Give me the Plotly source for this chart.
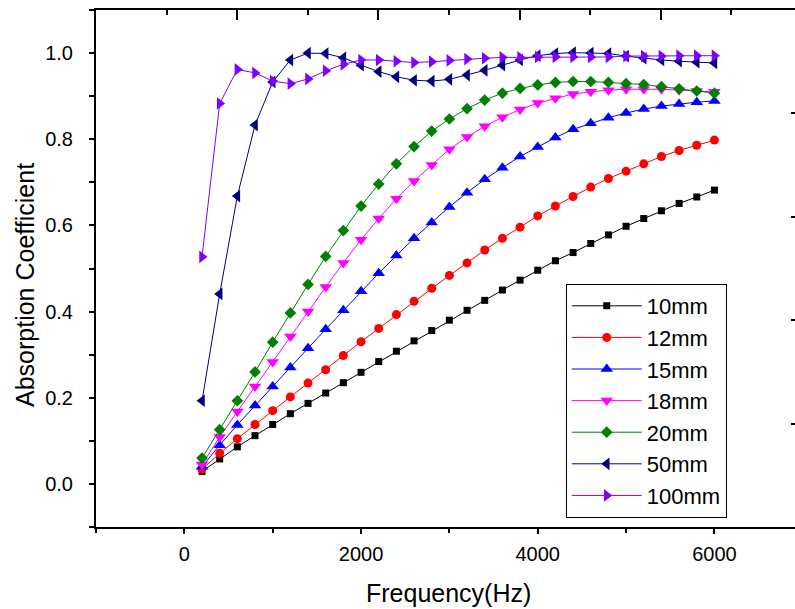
import plotly.graph_objects as go

freq = list(range(200, 6001, 200))

s10 = [0.029, 0.058, 0.086, 0.112, 0.138, 0.163, 0.187, 0.211, 0.235, 0.259,
       0.284, 0.308, 0.332, 0.356, 0.380, 0.403, 0.426, 0.450, 0.473, 0.496,
       0.518, 0.537, 0.558, 0.578, 0.598, 0.616, 0.634, 0.651, 0.666, 0.682]
s12 = [0.034, 0.071, 0.105, 0.138, 0.170, 0.202, 0.234, 0.265, 0.298, 0.330,
       0.361, 0.393, 0.424, 0.454, 0.484, 0.513, 0.543, 0.570, 0.596, 0.622,
       0.645, 0.667, 0.689, 0.709, 0.726, 0.743, 0.760, 0.774, 0.786, 0.798]
s15 = [0.040, 0.090, 0.137, 0.182, 0.226, 0.270, 0.315, 0.359, 0.403, 0.447,
       0.489, 0.530, 0.570, 0.607, 0.643, 0.676, 0.707, 0.734, 0.760, 0.782,
       0.804, 0.823, 0.837, 0.850, 0.861, 0.870, 0.877, 0.882, 0.886, 0.889]
s18 = [0.045, 0.109, 0.168, 0.226, 0.283, 0.342, 0.400, 0.457, 0.513, 0.567,
       0.616, 0.662, 0.703, 0.740, 0.777, 0.805, 0.830, 0.851, 0.869, 0.884,
       0.895, 0.905, 0.910, 0.914, 0.916, 0.916, 0.916, 0.914, 0.912, 0.910]
s20 = [0.060, 0.126, 0.193, 0.260, 0.329, 0.397, 0.463, 0.528, 0.588, 0.645,
       0.696, 0.743, 0.783, 0.819, 0.847, 0.871, 0.891, 0.907, 0.918, 0.926,
       0.932, 0.934, 0.934, 0.932, 0.929, 0.927, 0.922, 0.917, 0.912, 0.907]
s50 = [0.193, 0.441, 0.668, 0.833, 0.933, 0.984, 1.000, 0.999, 0.989, 0.972,
       0.957, 0.945, 0.937, 0.935, 0.939, 0.949, 0.960, 0.972, 0.984, 0.994,
       0.999, 1.001, 1.000, 0.999, 0.993, 0.988, 0.984, 0.981, 0.979, 0.977]
s100 = [0.527, 0.883, 0.962, 0.954, 0.935, 0.929, 0.940, 0.959, 0.974, 0.984,
        0.984, 0.981, 0.978, 0.980, 0.983, 0.986, 0.988, 0.990, 0.990, 0.991,
        0.991, 0.991, 0.991, 0.991, 0.993, 0.993, 0.993, 0.994, 0.994, 0.994]

names = ["10mm", "12mm", "15mm", "18mm", "20mm", "50mm", "100mm"]
series = [s10, s12, s15, s18, s20, s50, s100]
colors = ["#000000", "#FF0000", "#0000FF", "#FF00FF", "#008000", "#000080", "#8000FF"]
symbols = ["square", "circle", "triangle-up", "triangle-down", "diamond",
           "triangle-left", "triangle-right"]
sizes = [7, 9, 11, 11, 9, 11, 11]

FONT = "Liberation Sans, Arial, sans-serif"

fig = go.Figure()
for n, s, c, sym, sz in zip(names, series, colors, symbols, sizes):
    fig.add_trace(go.Scatter(
        x=freq, y=s, name=n, mode="lines+markers",
        line=dict(color=c, width=1),
        marker=dict(symbol=sym, size=sz, color=c, line=dict(width=0)),
    ))

# dummy trace to activate the top and right frame axes
fig.add_trace(go.Scatter(x=[0], y=[0], xaxis="x2", yaxis="y2", mode="markers",
                         marker=dict(opacity=0), showlegend=False, hoverinfo="skip"))

fig.update_layout(
    width=795, height=609,
    margin=dict(l=96, r=0, t=10, b=82),
    paper_bgcolor="white", plot_bgcolor="white",
    font=dict(family=FONT, color="black", size=20),
    showlegend=True,
    legend=dict(
        x=0.672, y=0.47, xanchor="left", yanchor="top",
        bgcolor="white", bordercolor="black", borderwidth=1,
        font=dict(family=FONT, size=22, color="black"),
        itemwidth=70, tracegroupgap=0,
    ),
    xaxis=dict(
        range=[-1000, 6912], showgrid=False, zeroline=False,
        showline=True, linecolor="black", linewidth=2,
        ticks="outside", ticklen=5, tickwidth=1.5, tickcolor="black",
        tick0=0, dtick=2000, tickformat="d",
        minor=dict(dtick=1000, tick0=0, ticks="outside", ticklen=4,
                   tickwidth=1.5, tickcolor="black", showgrid=False),
        tickfont=dict(size=20, family=FONT), ticklabelstandoff=3,
        automargin=False,
    ),
    yaxis=dict(
        range=[-0.1, 1.1], showgrid=False, zeroline=False,
        showline=True, linecolor="black", linewidth=2,
        ticks="outside", ticklen=5, tickwidth=1.5, tickcolor="black",
        tick0=0, dtick=0.2, tickformat=".1f",
        minor=dict(dtick=0.1, tick0=0, ticks="outside", ticklen=5,
                   tickwidth=1.5, tickcolor="black", showgrid=False),
        tickfont=dict(size=20, family=FONT), ticklabelstandoff=12,
        automargin=False,
    ),
    xaxis2=dict(
        overlaying="x", side="top", anchor="y", range=[0, 9.9],
        showgrid=False, zeroline=False, showticklabels=False,
        showline=True, linecolor="black", linewidth=2,
        ticks="inside", ticklen=10, tickwidth=1.5, tickcolor="black",
        tick0=0, dtick=2,
        minor=dict(dtick=1, tick0=0, ticks="inside", ticklen=5,
                   tickwidth=1.5, tickcolor="black", showgrid=False),
    ),
    yaxis2=dict(
        overlaying="y", side="right", anchor="x", range=[0, 5],
        showgrid=False, zeroline=False, showticklabels=False, showline=False,
        ticks="inside", ticklen=4, tickwidth=1.5, tickcolor="black",
        tick0=0, dtick=1,
    ),
    annotations=[
        dict(text="Frequency(Hz)", xref="paper", yref="paper",
             x=0.504, y=-0.128, xanchor="center", yanchor="middle",
             showarrow=False, font=dict(family=FONT, size=25, color="black")),
        dict(text="Absorption Coefficient", xref="paper", yref="paper",
             x=-0.1016, y=0.468, xanchor="center", yanchor="middle",
             textangle=-90, showarrow=False,
             font=dict(family=FONT, size=25, color="black")),
    ],
)

fig.write_html(
    "out.html",
    config={"displayModeBar": False},
    post_script="document.body.style.margin='0';document.body.style.overflow='hidden';",
)
